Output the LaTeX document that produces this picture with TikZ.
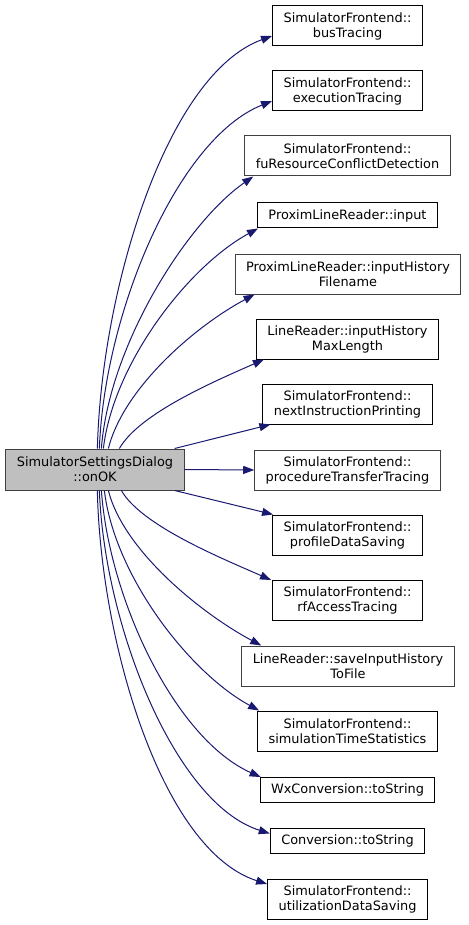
\documentclass[tikz,border=0pt]{standalone}
\usepackage{fontspec}
\setmainfont{DejaVu Sans}
\usetikzlibrary{arrows.meta,calc}

\definecolor{edgeblue}{HTML}{191970}
\definecolor{rootfill}{HTML}{BFBFBF}
\definecolor{rootline}{HTML}{404040}

\tikzset{
  fnbox/.style={draw=black, fill=white, line width=1pt, align=center,
    inner xsep=11pt, inner ysep=0pt, minimum height=40pt,
    font=\fontsize{12.9}{15}\selectfont},
  onebox/.style={fnbox, minimum height=25pt},
  greybox/.style={draw=rootline},
  rootbox/.style={fnbox, fill=rootfill, draw=rootline, minimum height=41pt},
  call/.style={edgeblue, line width=1pt, -{Triangle[length=11pt,width=8pt]}}
}

\begin{document}
\begin{tikzpicture}[x=1pt, y=-1pt]
    \useasboundingbox (0,0) rectangle (468,925);
    % ---- the caller
    \node[rootbox] (main) at (95,469.5) {SimulatorSettingsDialog\\::onOK};
    % ---- the callees, top to bottom
    \node[fnbox] (busTr) at (347.5,26) {SimulatorFrontend::\\busTracing};
    \node[fnbox] (execTr) at (347.5,91) {SimulatorFrontend::\\executionTracing};
    \node[fnbox,greybox] (fuRes) at (347.5,156) {SimulatorFrontend::\\fuResourceConflictDetection};
    \node[onebox] (plrInput) at (347.5,215.5) {ProximLineReader::input};
    \node[fnbox,greybox] (plrFile) at (348,274) {ProximLineReader::inputHistory\\Filename};
    \node[fnbox] (lrMaxLen) at (347.5,339) {LineReader::inputHistory\\MaxLength};
    \node[fnbox] (nextInstr) at (347.5,404) {SimulatorFrontend::\\nextInstructionPrinting};
    \node[fnbox,greybox] (procTr) at (347.5,470) {SimulatorFrontend::\\procedureTransferTracing};
    \node[fnbox] (profSave) at (347.5,535) {SimulatorFrontend::\\profileDataSaving};
    \node[fnbox] (rfAcc) at (347.5,600.5) {SimulatorFrontend::\\rfAccessTracing};
    \node[fnbox,greybox] (lrSave) at (348,666) {LineReader::saveInputHistory\\ToFile};
    \node[fnbox] (simTime) at (347.5,731) {SimulatorFrontend::\\simulationTimeStatistics};
    \node[onebox] (wxStr) at (347.5,790) {WxConversion::toString};
    \node[onebox] (convStr) at (347.5,840.5) {Conversion::toString};
    \node[fnbox] (utilSave) at (347.5,899) {SimulatorFrontend::\\utilizationDataSaving};
    % ---- calls leaving the top of the caller
    \draw[call] ([xshift=92pt]main.north west) .. controls +(4,-160) and +(-105,38) .. ([yshift=-10pt]busTr.west);
    \draw[call] ([xshift=94pt]main.north west) .. controls +(5,-135) and +(-95,38) .. ([yshift=-10pt]execTr.west);
    \draw[call] ([xshift=96pt]main.north west) .. controls +(8,-105) and +(-65,45) .. ([xshift=9pt]fuRes.south west);
    \draw[call] ([xshift=98pt]main.north west) .. controls +(10,-85) and +(-70,38) .. ([xshift=1pt]plrInput.south west);
    \draw[call] ([xshift=103pt]main.north west) .. controls +(15,-60) and +(-60,32) .. ([xshift=20pt]plrFile.south west);
    \draw[call] ([xshift=114pt]main.north west) .. controls +(20,-35) and +(-50,22) .. ([xshift=8pt]lrMaxLen.south west);
    \draw[call] ([xshift=-10pt]main.north east) -- ([xshift=8pt]nextInstr.south west);
    % ---- straight across
    \draw[call] (main.east) -- (procTr.west);
    % ---- calls leaving the bottom of the caller
    \draw[call] ([xshift=-10pt]main.south east) -- ([xshift=1pt]profSave.north west);
    \draw[call] ([xshift=116pt]main.south west) .. controls +(20,35) and +(-50,-22) .. ([xshift=-1pt]rfAcc.north west);
    \draw[call] ([xshift=103pt]main.south west) .. controls +(15,60) and +(-60,-32) .. ([xshift=20pt]lrSave.north west);
    \draw[call] ([xshift=99pt]main.south west) .. controls +(10,85) and +(-70,-38) .. ([xshift=2pt]simTime.north west);
    \draw[call] ([xshift=96pt]main.south west) .. controls +(8,110) and +(-85,-38) .. ([xshift=1pt]wxStr.north west);
    \draw[call] ([xshift=94pt]main.south west) .. controls +(5,135) and +(-95,-30) .. ([yshift=7pt]convStr.west);
    \draw[call] ([xshift=92pt]main.south west) .. controls +(3,150) and +(-106,-34) .. ([yshift=15pt]utilSave.west);
\end{tikzpicture}
\end{document}
